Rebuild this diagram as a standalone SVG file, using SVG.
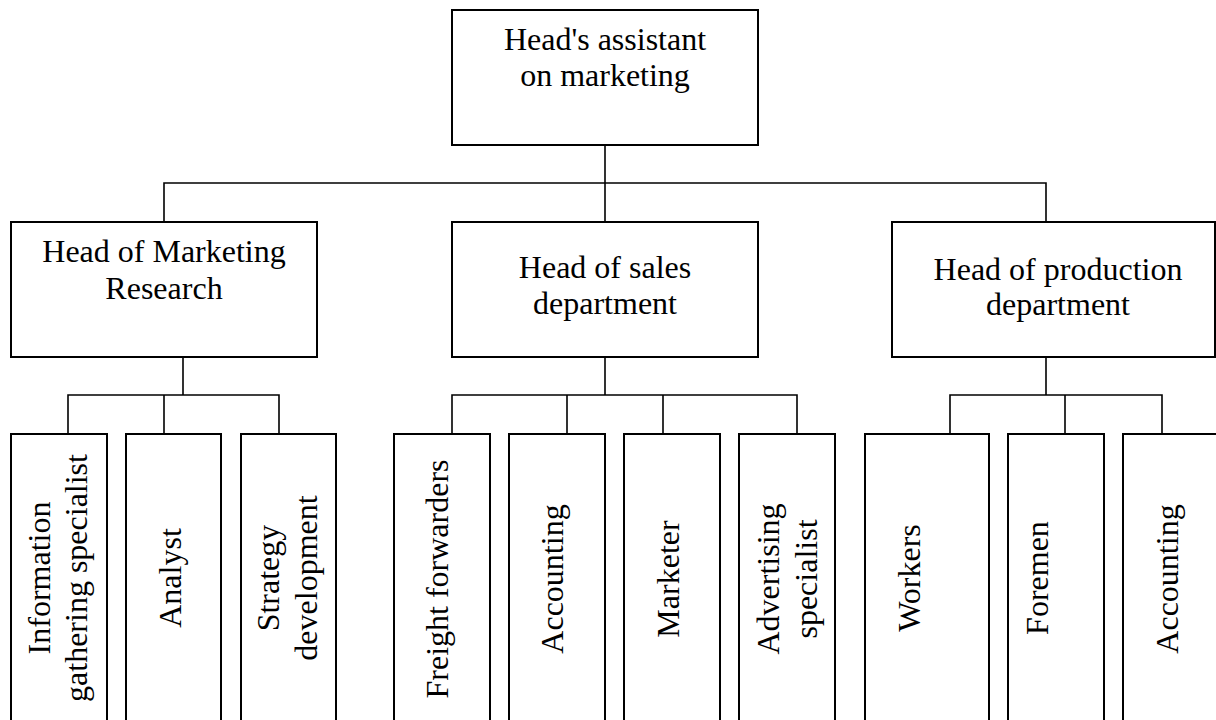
<svg xmlns="http://www.w3.org/2000/svg" width="1216" height="720" viewBox="0 0 1216 720">
<style>
.box{fill:#fff;stroke:#000;stroke-width:2}
.con{fill:none;stroke:#000;stroke-width:1.6}
text{font-family:"Liberation Serif","Times New Roman",serif;font-size:32px;fill:#000}
.c{text-anchor:middle}
</style>
<rect width="1216" height="720" fill="#fff"/>
<g id="connectors" class="con">
<path d="M605 145V222M164 222V183H1046V222"/>
<path d="M183 357V395M68 434V395H279V434M164 395V434"/>
<path d="M605 357V395M452 434V395H797V434M567 395V434M663 395V434"/>
<path d="M1046 357V395M950 434V395H1162V434M1065 395V434"/>
</g>
<g id="n-top"><rect class="box" x="452" y="10" width="306" height="135"/><text class="c" x="605" y="50">Head's assistant</text><text class="c" x="605" y="86">on marketing</text></g>
<g id="n-research"><rect class="box" x="11" y="222" width="306" height="135"/><text class="c" x="164" y="262">Head of Marketing</text><text class="c" x="164" y="299">Research</text></g>
<g id="n-sales"><rect class="box" x="452" y="222" width="306" height="135"/><text class="c" x="605" y="278">Head of sales</text><text class="c" x="605" y="314">department</text></g>
<g id="n-production"><rect class="box" x="892" y="222" width="323" height="135"/><text class="c" x="1058" y="280">Head of production</text><text class="c" x="1058" y="315">department</text></g>
<g id="n-info"><rect class="box" x="11" y="434" width="96" height="300"/><text class="c" transform="rotate(-90)" x="-578" y="50">Information</text><text class="c" transform="rotate(-90)" x="-578" y="87">gathering specialist</text></g>
<g id="n-analyst"><rect class="box" x="126" y="434" width="95" height="300"/><text class="c" transform="rotate(-90)" x="-578" y="181">Analyst</text></g>
<g id="n-strategy"><rect class="box" x="241" y="434" width="95" height="300"/><text class="c" transform="rotate(-90)" x="-578" y="279">Strategy</text><text class="c" transform="rotate(-90)" x="-578" y="317">development</text></g>
<g id="n-freight"><rect class="box" x="394" y="434" width="96" height="300"/><text class="c" transform="rotate(-90)" x="-579" y="448">Freight forwarders</text></g>
<g id="n-accounting1"><rect class="box" x="509" y="434" width="96" height="300"/><text class="c" transform="rotate(-90)" x="-579" y="563">Accounting</text></g>
<g id="n-marketer"><rect class="box" x="624" y="434" width="96" height="300"/><text class="c" transform="rotate(-90)" x="-579" y="679">Marketer</text></g>
<g id="n-advertising"><rect class="box" x="739" y="434" width="96" height="300"/><text class="c" transform="rotate(-90)" x="-579" y="779">Advertising</text><text class="c" transform="rotate(-90)" x="-579" y="817">specialist</text></g>
<g id="n-workers"><rect class="box" x="865" y="434" width="124" height="300"/><text class="c" transform="rotate(-90)" x="-578" y="920">Workers</text></g>
<g id="n-foremen"><rect class="box" x="1008" y="434" width="96" height="300"/><text class="c" transform="rotate(-90)" x="-578" y="1048">Foremen</text></g>
<g id="n-accounting2"><rect class="box" x="1123" y="434" width="96" height="300"/><text class="c" transform="rotate(-90)" x="-579" y="1178">Accounting</text></g>
</svg>
